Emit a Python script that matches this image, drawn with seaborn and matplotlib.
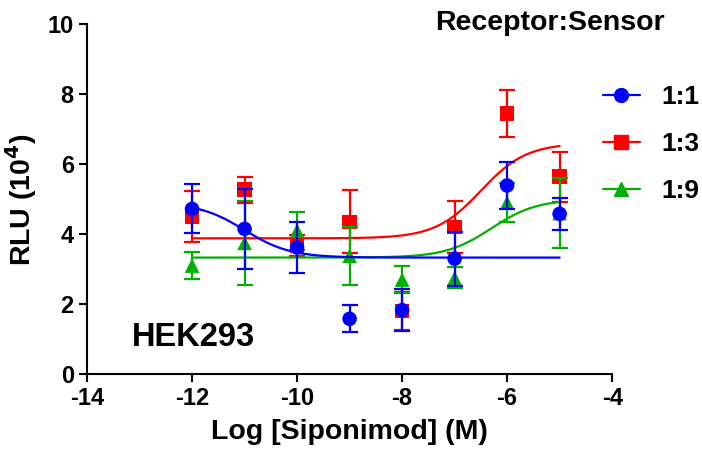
import numpy as np
import pandas as pd
import seaborn as sns
import matplotlib.pyplot as plt
from matplotlib.lines import Line2D

# Log [Siponimod] (M)
log_conc = [-12, -11, -10, -9, -8, -7, -6, -5]

# RLU (10^4), mean and error
rlu_11 = [4.72, 4.15, 3.62, 1.58, 1.83, 3.30, 5.39, 4.58]
err_11 = [0.70, 1.15, 0.72, 0.39, 0.60, 0.77, 0.66, 0.46]
rlu_13 = [4.50, 5.27, 3.67, 4.35, 1.80, 4.20, 7.45, 5.64]
err_13 = [0.72, 0.37, 0.30, 0.90, 0.55, 0.75, 0.67, 0.72]
rlu_19 = [3.10, 3.75, 4.10, 3.38, 2.70, 2.75, 4.90, 4.60]
err_19 = [0.39, 1.20, 0.54, 0.83, 0.39, 0.30, 0.55, 1.00]

# fitted 4PL parameters (bottom, top, logEC50, hill) per ratio
fit_11 = (3.33, 4.90, -11.0, -1.0)
fit_13 = (3.88, 6.60, -6.5, 1.0)
fit_19 = (3.33, 5.00, -6.3, 1.0)

labels = ["1:1", "1:3", "1:9"]
colors = {"1:1": "#0000ff", "1:3": "#ff0000", "1:9": "#00b000"}
markers = {"1:1": "o", "1:3": "s", "1:9": "^"}
zorders = {"1:1": 5, "1:3": 3, "1:9": 4}

df = pd.DataFrame({
    "logc": log_conc * 3,
    "rlu": rlu_11 + rlu_13 + rlu_19,
    "err": err_11 + err_13 + err_19,
    "ratio": [l for l in labels for _ in log_conc],
})

def four_pl(x, p):
    bottom, top, ec, hill = p
    return bottom + (top - bottom) / (1 + 10 ** ((ec - x) * hill))

xf = np.linspace(-12, -5, 200)
fits = {"1:1": fit_11, "1:3": fit_13, "1:9": fit_19}
curve = pd.DataFrame({
    "logc": np.tile(xf, 3),
    "rlu": np.concatenate([four_pl(xf, fits[l]) for l in labels]),
    "ratio": np.repeat(labels, len(xf)),
})

sns.set_style("ticks")
plt.rcParams['font.family'] = ['Liberation Sans', 'DejaVu Sans']
plt.rcParams['font.weight'] = 'bold'
plt.rcParams['axes.unicode_minus'] = False
plt.rcParams['text.color'] = 'black'
plt.rcParams['axes.labelcolor'] = 'black'

fig = plt.figure(figsize=(7.02, 4.73), dpi=100)
ax = fig.add_axes([0.124, 0.209, 0.748, 0.740])

for lab in labels:
    sub = df[df.ratio == lab]
    c = curve[curve.ratio == lab]
    z = zorders[lab]
    sns.lineplot(x=c.logc, y=c.rlu, color=colors[lab], lw=1.6, ax=ax, zorder=z)
    ax.errorbar(sub.logc, sub.rlu, yerr=sub.err, fmt="none", ecolor=colors[lab],
                elinewidth=1.6, capsize=6, capthick=1.6, zorder=z)
    sns.scatterplot(x=sub.logc, y=sub.rlu, color=colors[lab], marker=markers[lab],
                    s=110, edgecolor="none", ax=ax, zorder=z + 0.5)

ax.set_xlim(-14, -4)
ax.set_ylim(0, 10)
ax.set_xticks([-14, -12, -10, -8, -6, -4])
ax.set_yticks([0, 2, 4, 6, 8, 10])
sns.despine(ax=ax)
for s in ["left", "bottom"]:
    ax.spines[s].set_linewidth(1.5)
    ax.spines[s].set_color("black")
ax.tick_params(width=1.5, length=6, labelsize=17, colors="black")
for t in ax.get_xticklabels() + ax.get_yticklabels():
    t.set_fontweight("bold")

ax.set_xlabel("Log [Siponimod] (M)", fontsize=20.5, fontweight="bold", labelpad=6)
ax.set_ylabel("RLU (10$^\\mathbf{4}$)", fontsize=20.5, fontweight="bold", labelpad=6)

ax.text(-13.14, 1.06, "HEK293", fontsize=23.5, fontweight="bold", va="center", ha="left")
fig.text(0.783, 0.951, "Receptor:Sensor", fontsize=20.5, fontweight="bold",
         ha="center", va="center")

handles = [Line2D([0], [0], color=colors[l], marker=markers[l], lw=1.6,
                  markersize=10) for l in labels]
leg = fig.legend(handles, labels, loc="upper left", bbox_to_anchor=(0.859, 0.82),
                 frameon=False, prop={"size": 19, "weight": "bold"},
                 borderpad=0, borderaxespad=0,
                 handlelength=1.4, labelspacing=0.87, handletextpad=0.8)

fig.savefig("out.png", dpi=100)
